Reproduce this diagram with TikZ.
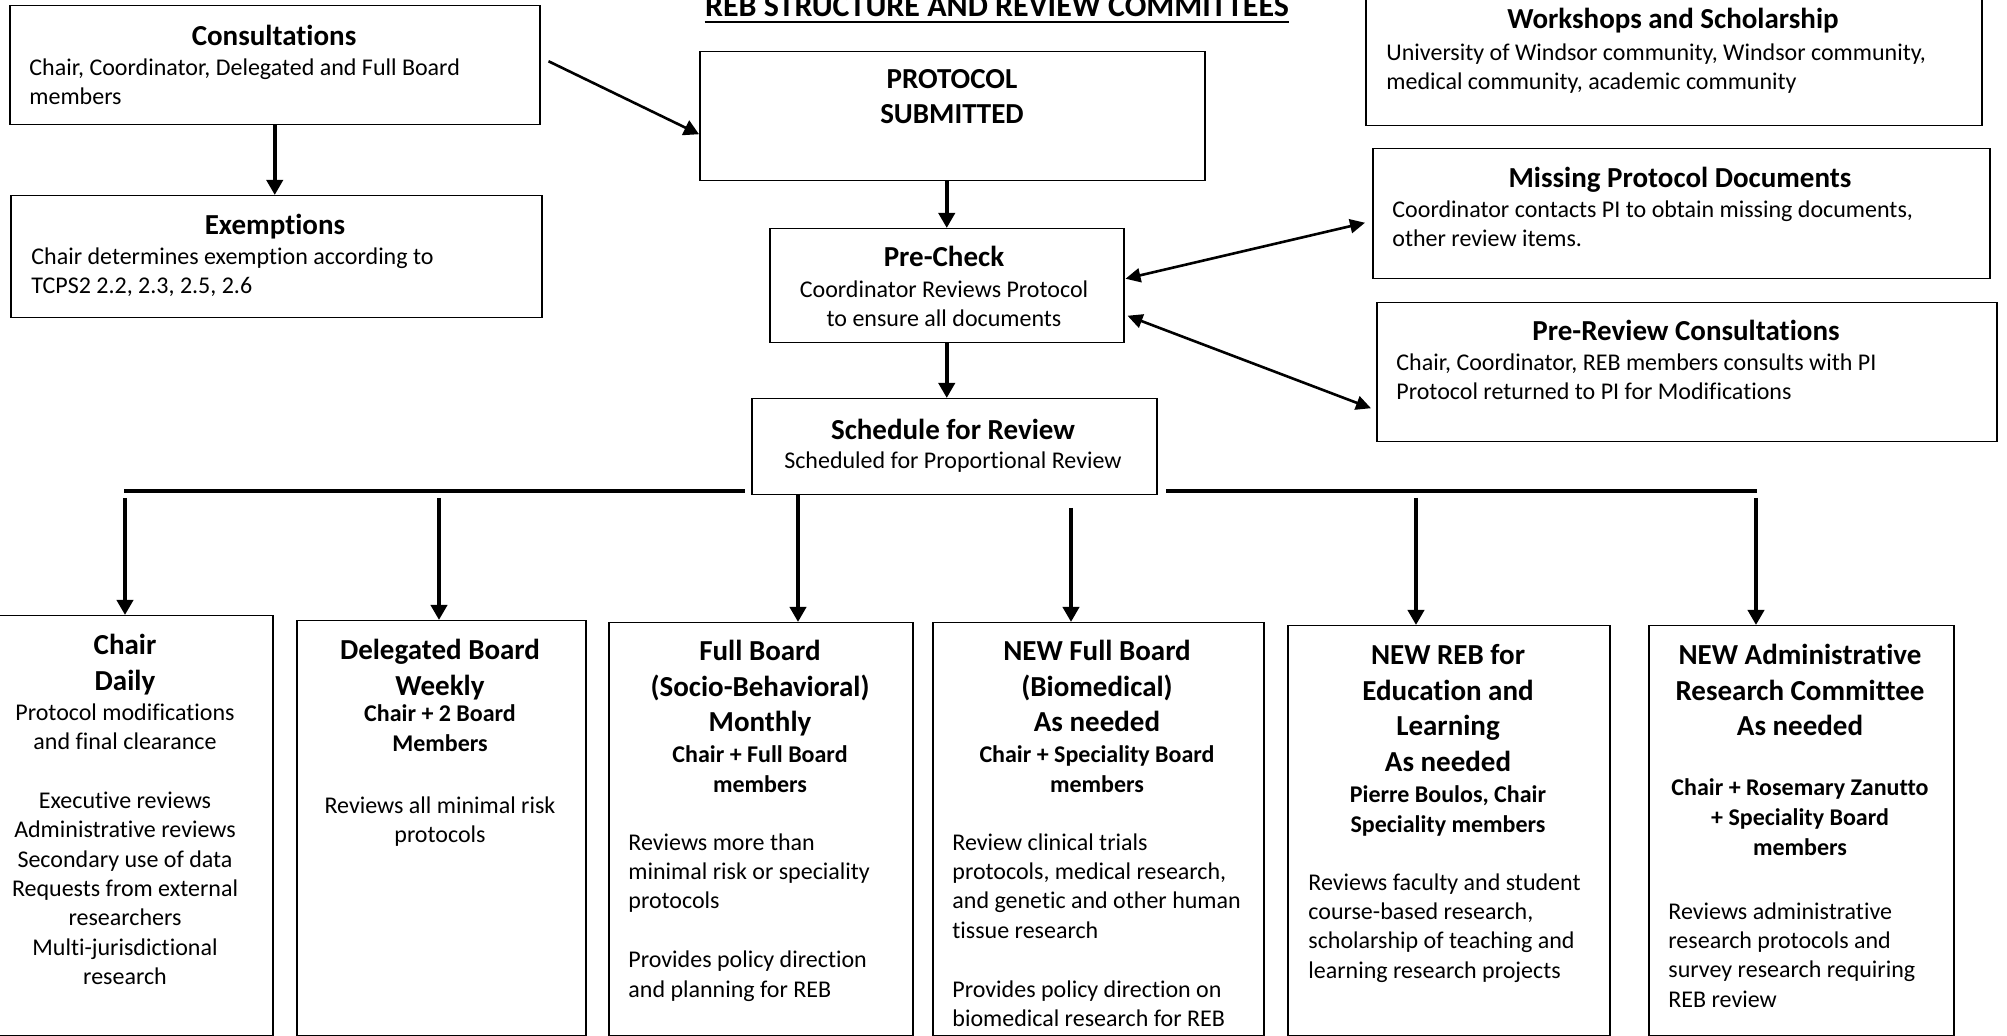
\documentclass[tikz,border=0pt]{standalone}
\usepackage{fontspec}
\setmainfont{Carlito}[Ligatures=NoCommon]
\usetikzlibrary{arrows.meta}

\newcommand{\headfnt}{\fontsize{14.5}{17.75}\selectfont\bfseries}
\newcommand{\subfnt}{\fontsize{12}{15}\selectfont\bfseries}
\newcommand{\bodyfnt}{\fontsize{12}{14.7}\selectfont}

\begin{document}
\begin{tikzpicture}[x=0.5pt, y=-0.5pt,
  box/.style={draw, line width=0.75pt, fill=white, anchor=north west, inner sep=0pt},
  boxwh/.style 2 args={minimum width=#1*0.5pt, minimum height=#2*0.5pt},
  hd/.style={font=\headfnt, align=center, anchor=north, inner sep=0pt},
  sub/.style={font=\subfnt, align=center, anchor=north, inner sep=0pt},
  txt/.style={font=\bodyfnt, align=left, anchor=north west, inner sep=0pt},
  ctxt/.style={font=\bodyfnt, align=center, anchor=north, inner sep=0pt},
  arr/.style={line width=2pt, -{Triangle[length=7.5pt, width=8pt]}},
  darr/.style={line width=1.3pt, {Triangle[length=7.5pt, width=7pt]}-{Triangle[length=7.5pt, width=7pt]}},
  bar/.style={line width=2pt}]
  \useasboundingbox (0,0) rectangle (2007,1036);
  \fill[white] (0,0) rectangle (2007,1036);

  % title, cut at the top of the page
  \node[font=\fontsize{16}{19}\selectfont\bfseries, anchor=base, inner sep=0pt] (title) at (997,17) {REB STRUCTURE AND REVIEW COMMITTEES};
  \draw[line width=1.2pt] ([yshift=-2.5pt]title.base west) -- ([yshift=-2.5pt]title.base east);

  % left column
  \node[box, boxwh={530}{119}] (cons) at (9,5) {};
  \node[hd] (cons-h) at (274,25) {Consultations};
  \node[txt] (cons-t) at (29,58) {Chair, Coordinator, Delegated and Full Board\\members};
  \node[box, boxwh={531}{122}] (exem) at (10,195) {};
  \node[hd] (exem-h) at (275,214) {Exemptions};
  \node[txt] (exem-t) at (31,247) {Chair determines exemption according to\\TCPS2 2.2, 2.3, 2.5, 2.6};

  % middle column
  \node[box, boxwh={505}{129}] (proto) at (699,51) {};
  \node[hd] (proto-h) at (952,69) {PROTOCOL\\SUBMITTED};
  \node[box, boxwh={354}{114}] (check) at (769,228) {};
  \node[hd] (check-h) at (944,246) {Pre-Check};
  \node[ctxt] (check-t) at (944,280) {Coordinator Reviews Protocol\\to ensure all documents};
  \node[box, boxwh={405}{96}] (sched) at (751,398) {};
  \node[hd] (sched-h) at (953,419) {Schedule for Review};
  \node[ctxt] (sched-t) at (953,451) {Scheduled for Proportional Review};

  % right column
  \node[box, boxwh={616}{135}] (work) at (1365,-10) {};
  \node[hd] (work-h) at (1673,8) {Workshops and Scholarship};
  \node[txt] (work-t) at (1386,43) {University of Windsor community, Windsor community,\\medical community, academic community};
  \node[box, boxwh={617}{130}] (miss) at (1372,148) {};
  \node[hd] (miss-h) at (1680,167) {Missing Protocol Documents};
  \node[txt] (miss-t) at (1392,200) {Coordinator contacts PI to obtain missing documents,\\other review items.};
  \node[box, boxwh={620}{139}] (prerev) at (1376,302) {};
  \node[hd] (prerev-h) at (1686,320) {Pre-Review Consultations};
  \node[txt] (prerev-t) at (1396,353) {Chair, Coordinator, REB members consults with PI\\Protocol returned to PI for Modifications};

  % flow between the upper boxes
  \draw[arr, line width=1.3pt] ([shift={(4pt,2pt)}]cons.east) -- ([yshift=-9pt]proto.west);
  \draw[arr] (cons.south) -- (cons.south |- exem.north);
  \draw[arr] (check.north |- proto.south) -- (check.north);
  \draw[arr] (check.south) -- (check.south |- sched.north);
  \draw[darr] ([shift={(0.5pt,3.5pt)}]check.east) -- ([shift={(-3.5pt,-4.5pt)}]miss.west);
  \draw[darr] ([shift={(1.5pt,-15pt)}]check.east) -- ([shift={(-2.5pt,-18pt)}]prerev.west);

  % review committees
  \node[box, boxwh={294}{420}] (chair) at (-22,615) {};
  \node[box, boxwh={289}{415}] (deleg) at (296,620) {};
  \node[box, boxwh={304}{413}] (full) at (608,622) {};
  \node[box, boxwh={331}{413}] (bio) at (932,622) {};
  \node[box, boxwh={322}{410}] (edu) at (1287,625) {};
  \node[box, boxwh={305}{410}] (admin) at (1648,625) {};

  \node[hd] (chair-h) at (125,634) {Chair\\Daily};
  \node[ctxt] (chair-t) at (125,703) {Protocol modifications\\and final clearance\\~\\Executive reviews\\Administrative reviews\\Secondary use of data\\Requests from external\\researchers\\Multi-jurisdictional\\research};

  \node[hd] (deleg-h) at (440,639) {Delegated Board\\Weekly};
  \node[sub] (deleg-s) at (440,704) {Chair + 2 Board\\Members};
  \node[ctxt] (deleg-t) at (440,796) {Reviews all minimal risk\\protocols};

  \node[hd] (full-h) at (760,640) {Full Board\\(Socio-Behavioral)\\Monthly};
  \node[sub] (full-s) at (760,745) {Chair + Full Board\\members};
  \node[txt] (full-t) at (628,833) {Reviews more than\\minimal risk or speciality\\protocols\\~\\Provides policy direction\\and planning for REB};

  \node[hd] (bio-h) at (1097,640) {NEW Full Board\\(Biomedical)\\As needed};
  \node[sub] (bio-s) at (1097,745) {Chair + Speciality Board\\members};
  \node[txt] (bio-t) at (952,833) {Review clinical trials\\protocols, medical research,\\and genetic and other human\\tissue research\\~\\Provides policy direction on\\biomedical research for REB};

  \node[hd] (edu-h) at (1448,644) {NEW REB for\\Education and\\Learning\\As needed};
  \node[sub] (edu-s) at (1448,785) {Pierre Boulos, Chair\\Speciality members};
  \node[txt] (edu-t) at (1308,873) {Reviews faculty and student\\course-based research,\\scholarship of teaching and\\learning research projects};

  \node[hd] (admin-h) at (1800,644) {NEW Administrative\\Research Committee\\As needed};
  \node[sub] (admin-s) at (1800,778) {Chair + Rosemary Zanutto\\+ Speciality Board\\members};
  \node[txt] (admin-t) at (1668,902) {Reviews administrative\\research protocols and\\survey research requiring\\REB review};

  % bus line and arrows down to the committees
  \coordinate (busL) at (124,491);
  \coordinate (busR) at (1757,491);
  \draw[bar] (busL) -- ++(621,0);
  \draw[bar] (busR) -- ++(-591,0);
  \foreach \b/\x/\y in {chair/125/498, deleg/439/498, full/798/494, bio/1071/508, edu/1416/498, admin/1756/498}
  {
    \coordinate (a-\b) at (\x,\y);
    \draw[arr] (a-\b) -- (a-\b |- \b.north);
  };
\end{tikzpicture}
\end{document}
